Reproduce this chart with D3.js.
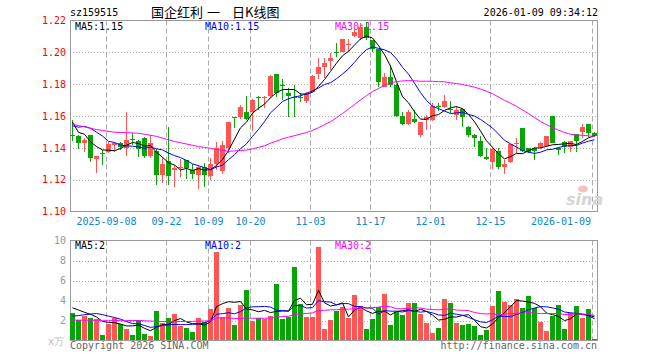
<!DOCTYPE html>
<html>
<head>
<meta charset="utf-8">
<script src="https://cdn.jsdelivr.net/npm/d3@7"></script>
<style>
  body { margin: 0; background: #fff; }
  svg { display: block; font-family: "DejaVu Sans Mono", monospace; font-size: 10px; }
</style>
</head>
<body>
<svg id="kline" width="660" height="360"></svg>
<script>
(function(d3) {
  'use strict';

  // trading days shown (88 sessions)
  var dates = [
    "2025-08-29","2025-09-01","2025-09-02","2025-09-03","2025-09-04","2025-09-05",
    "2025-09-08","2025-09-09","2025-09-10","2025-09-11","2025-09-12",
    "2025-09-15","2025-09-16","2025-09-17","2025-09-18","2025-09-19",
    "2025-09-22","2025-09-23","2025-09-24","2025-09-25","2025-09-26",
    "2025-09-29","2025-09-30","2025-10-09","2025-10-10",
    "2025-10-13","2025-10-14","2025-10-15","2025-10-16","2025-10-17",
    "2025-10-20","2025-10-21","2025-10-22","2025-10-23","2025-10-24",
    "2025-10-27","2025-10-28","2025-10-29","2025-10-30","2025-10-31",
    "2025-11-03","2025-11-04","2025-11-05","2025-11-06","2025-11-07",
    "2025-11-10","2025-11-11","2025-11-12","2025-11-13","2025-11-14",
    "2025-11-17","2025-11-18","2025-11-19","2025-11-20","2025-11-21",
    "2025-11-24","2025-11-25","2025-11-26","2025-11-27","2025-11-28",
    "2025-12-01","2025-12-02","2025-12-03","2025-12-04","2025-12-05",
    "2025-12-08","2025-12-09","2025-12-10","2025-12-11","2025-12-12",
    "2025-12-15","2025-12-16","2025-12-17","2025-12-18","2025-12-19",
    "2025-12-22","2025-12-23","2025-12-24","2025-12-25","2025-12-26",
    "2025-12-29","2025-12-30","2025-12-31",
    "2026-01-05","2026-01-06","2026-01-07","2026-01-08","2026-01-09"
  ];

  var open = [
    1.1478,1.1475,1.1433,1.1481,1.1332,1.1368,1.1372,1.1418,1.1433,1.1402,
    1.1455,1.1445,1.1464,1.1349,1.1381,1.1230,1.1318,1.1261,1.1279,1.1324,
    1.1261,1.1230,1.1282,1.1224,1.1300,1.1255,1.1397,1.1592,1.1596,1.1627,
    1.1627,1.1722,1.1719,1.1725,1.1863,1.1794,1.1746,1.1722,1.1718,1.1696,
    1.1752,1.1861,1.1905,1.1947,1.2004,1.2003,1.2049,1.2101,1.2087,1.2160,
    1.2077,1.2018,1.1784,1.1843,1.1794,1.1600,1.1550,1.1583,1.1481,1.1575,
    1.1575,1.1665,1.1658,1.1645,1.1606,1.1642,1.1533,1.1481,1.1445,1.1345,
    1.1313,1.1381,1.1282,1.1313,1.1428,1.1523,1.1397,1.1397,1.1404,1.1412,
    1.1600,1.1397,1.1439,1.1404,1.1485,1.1502,1.1550,1.1495
  ];
  var high = [
    1.1575,1.1478,1.1462,1.1483,1.1350,1.1385,1.1435,1.1439,1.1435,1.1623,
    1.1493,1.1447,1.1466,1.1481,1.1395,1.1337,1.1533,1.1290,1.1330,1.1326,
    1.1299,1.1285,1.1305,1.1337,1.1435,1.1440,1.1564,1.1596,1.1670,1.1725,
    1.1705,1.1725,1.1725,1.1857,1.1865,1.1830,1.1774,1.1794,1.1742,1.1752,
    1.1857,1.1966,1.1966,1.1997,1.2056,1.2085,1.2081,1.2160,1.2183,1.2190,
    1.2077,1.2018,1.1868,1.1920,1.1800,1.1627,1.1637,1.1638,1.1565,1.1606,
    1.1681,1.1683,1.1732,1.1696,1.1660,1.1648,1.1535,1.1485,1.1475,1.1397,
    1.1408,1.1397,1.1324,1.1425,1.1460,1.1525,1.1400,1.1404,1.1436,1.1477,
    1.1600,1.1404,1.1442,1.1445,1.1487,1.1548,1.1550,1.1500
  ];
  var low = [
    1.1445,1.1393,1.1376,1.1313,1.1245,1.1290,1.1365,1.1376,1.1387,1.1350,
    1.1418,1.1343,1.1335,1.1335,1.1167,1.1178,1.1164,1.1155,1.1218,1.1203,
    1.1203,1.1140,1.1157,1.1199,1.1260,1.1235,1.1370,1.1525,1.1580,1.1573,
    1.1508,1.1638,1.1648,1.1710,1.1721,1.1700,1.1596,1.1596,1.1690,1.1680,
    1.1750,1.1830,1.1836,1.1888,1.1972,1.2000,1.2003,1.2097,1.2077,1.2077,
    1.2003,1.1784,1.1784,1.1784,1.1596,1.1544,1.1544,1.1554,1.1468,1.1512,
    1.1570,1.1633,1.1648,1.1617,1.1575,1.1530,1.1470,1.1408,1.1345,1.1324,
    1.1268,1.1268,1.1236,1.1307,1.1366,1.1376,1.1366,1.1324,1.1395,1.1405,
    1.1429,1.1356,1.1366,1.1372,1.1376,1.1460,1.1465,1.1470
  ];
  var close = [
    1.1475,1.1433,1.1450,1.1335,1.1349,1.1366,1.1425,1.1433,1.1408,1.1450,
    1.1452,1.1393,1.1349,1.1433,1.1230,1.1297,1.1224,1.1276,1.1281,1.1274,
    1.1233,1.1282,1.1230,1.1299,1.1400,1.1420,1.1564,1.1590,1.1655,1.1579,
    1.1700,1.1719,1.1722,1.1851,1.1746,1.1790,1.1725,1.1718,1.1714,1.1738,
    1.1851,1.1909,1.1934,1.1966,1.2001,1.2081,1.2051,1.2129,1.2160,1.2087,
    1.2024,1.1815,1.1846,1.1794,1.1600,1.1550,1.1627,1.1562,1.1562,1.1596,
    1.1663,1.1660,1.1696,1.1640,1.1638,1.1596,1.1481,1.1464,1.1351,1.1330,
    1.1391,1.1282,1.1299,1.1423,1.1430,1.1382,1.1376,1.1382,1.1430,1.1475,
    1.1433,1.1386,1.1404,1.1440,1.1440,1.1533,1.1495,1.1475
  ];
  // volume, x万
  var volume = [
    2.75,2.10,2.45,2.30,2.15,0.53,1.64,2.30,1.62,1.20,
    0.53,2.10,0.63,0.43,2.94,1.73,2.22,2.64,1.44,1.25,
    0.85,2.24,1.85,3.12,8.88,2.33,3.22,1.54,3.52,5.05,
    1.97,2.30,2.20,2.44,5.65,2.14,2.37,7.37,3.64,2.37,
    2.37,9.32,1.15,2.04,2.94,3.37,2.30,4.55,3.44,1.13,
    2.14,3.31,4.65,1.54,2.87,2.54,3.78,3.78,2.64,1.77,
    0.76,1.27,4.15,3.78,1.77,1.54,1.64,1.44,0.53,1.10,
    3.47,4.95,3.88,3.54,4.12,3.24,4.45,3.21,1.87,0.96,
    2.44,3.54,1.13,2.77,3.44,2.27,3.14,0.13
  ];
  // the 29 sessions before the window, only feed the moving averages
  var prevClose = [
    1.1681,1.1698,1.1583,1.1597,1.1536,1.1595,1.1603,1.1453,1.1495,1.1497,
    1.1438,1.1549,1.1633,1.1430,1.1617,1.1544,1.1596,1.1521,1.1514,1.1473,
    1.1522,1.1395,1.1464,1.1590,1.1610,1.1754,1.1508,1.1573,1.1497
  ];
  var prevVolume = [
    2.21,2.56,2.41,2.26,0.64,1.75,2.41,1.73,1.31,0.64,
    2.21,1.41,1.21,3.72,2.51,3.00,2.29,1.09,0.90,0.50,
    1.60,1.50,1.70,1.60,1.65,3.20,3.60,3.30,3.50
  ];

  var tickDates = ["2025-09-08","2025-09-22","2025-10-09","2025-10-20","2025-11-03",
                   "2025-11-17","2025-12-01","2025-12-15","2026-01-09"];
  var tickText = ["2025-09-08","09-22","10-09","10-20","11-03","11-17","12-01","12-15","2026-01-09"];
  var priceTicks = [1.10, 1.12, 1.14, 1.16, 1.18, 1.20, 1.22];
  var volTicks = [2, 4, 6, 8, 10];

  var red = '#ff5555', green = '#08a408';
  var maColors = { 5: '#000', 10: '#0000ff', 30: '#ff00ff' };
  var left = 70, right = 598;

  var svg = d3.select('#kline');

  var x = d3.scaleBand()
      .domain(dates)
      .range([left, left + dates.length * 6])
      .paddingInner(1 / 6)
      .paddingOuter(1 / 12)
      .align(0);
  var mid = function(d) { return x(d) + x.bandwidth() / 2; };

  var yP = d3.scaleLinear().domain([1.10, 1.22]).range([211.5, 20.5]);
  var yV = d3.scaleLinear().domain([0, 10]).range([340.5, 240.5]);

  function movingAvg(hist, vals, n) {
    var all = hist.concat(vals);
    return vals.map(function(d, i) {
      var k = hist.length + i;
      return d3.mean(all.slice(k - n + 1, k + 1));
    });
  }

  // ---- header
  svg.append('text').attr('x', 70).attr('y', 16).text('sz159515');
  svg.append('text')
      .attr('y', 17)
      .attr('font-family', '"Noto Sans CJK SC", sans-serif')
      .attr('font-size', '13px')
      .call(function(t) {
        t.append('tspan').attr('x', 151).text('国企红利');
        t.append('tspan').attr('x', 207).text('一');
        t.append('tspan').attr('x', 232).text('日K线图');
      });
  svg.append('text').attr('x', 598).attr('y', 16).attr('text-anchor', 'end')
      .text('2026-01-09 09:34:12');

  // ---- panel frames, grids
  function panel(top, bottom, yScale, ticks) {
    var g = svg.append('g');
    g.selectAll('.hgrid')
      .data(ticks.filter(function(t) { return yScale(t) > top + 2 && yScale(t) < bottom - 2; }))
      .enter().append('line')
        .attr('x1', left).attr('x2', right)
        .attr('y1', function(t) { return Math.round(yScale(t)) + 0.5; })
        .attr('y2', function(t) { return Math.round(yScale(t)) + 0.5; })
        .attr('stroke', '#aaa')
        .attr('stroke-dasharray', '1,2');
    g.selectAll('.vgrid')
      .data(tickDates)
      .enter().append('line')
        .attr('x1', function(d) { return x(d) + 0.5; })
        .attr('x2', function(d) { return x(d) + 0.5; })
        .attr('y1', top).attr('y2', bottom)
        .attr('stroke', '#aaa')
        .attr('stroke-dasharray', '5,3');
    g.append('rect')
      .attr('x', left + 0.5).attr('y', top)
      .attr('width', right - left - 1).attr('height', bottom - top)
      .attr('fill', 'none')
      .attr('stroke', '#999');
  }
  panel(20.5, 211.5, yP, priceTicks);
  panel(240.5, 340.5, yV, volTicks);

  // y labels
  svg.append('g')
      .attr('transform', 'translate(' + left + ',0)')
      .call(d3.axisLeft(yP).tickValues(priceTicks).tickFormat(d3.format('.2f')).tickSize(0).tickPadding(4))
      .call(function(g) { g.select('.domain').remove(); })
      .attr('font-family', '"DejaVu Sans Mono", monospace')
      .attr('color', '#f00');
  svg.append('g')
      .attr('transform', 'translate(' + left + ',0)')
      .call(d3.axisLeft(yV).tickValues(volTicks).tickSize(0).tickPadding(4))
      .call(function(g) { g.select('.domain').remove(); })
      .attr('font-family', '"DejaVu Sans Mono", monospace')
      .attr('color', '#999');
  svg.append('text').attr('x', 64).attr('y', 345).attr('text-anchor', 'end')
      .attr('fill', '#bbb').text('x万');

  // date labels
  svg.selectAll('.date')
    .data(tickDates)
    .enter().append('text')
      .attr('class', 'date')
      .attr('y', 225)
      .attr('fill', '#0a86d4')
      .attr('x', function(d, i) {
        var w = tickText[i].length * 6;
        return Math.min(x(d) + 0.5, right - 7 - w / 2);
      })
      .attr('text-anchor', 'middle')
      .text(function(d, i) { return tickText[i]; });

  // sina watermark
  svg.append('ellipse').attr('cx', 583).attr('cy', 189).attr('rx', 5).attr('ry', 3.5)
      .attr('fill', '#f4c0c0');
  svg.append('text').attr('x', 566).attr('y', 205)
      .attr('font-family', '"DejaVu Sans", sans-serif')
      .attr('font-size', '16px').attr('font-style', 'italic').attr('font-weight', 'bold')
      .attr('fill', '#d4d4d4').text('sina');

  // ---- MA legends (drawn under the candles)
  var pMA = { 5: movingAvg(prevClose, close, 5), 10: movingAvg(prevClose, close, 10), 30: movingAvg(prevClose, close, 30) };
  var vMA = { 5: movingAvg(prevVolume, volume, 5), 10: movingAvg(prevVolume, volume, 10), 30: movingAvg(prevVolume, volume, 30) };
  var legendX = { 5: 75, 10: 205, 30: 335 };
  [5, 10, 30].forEach(function(n) {
    svg.append('text').attr('x', legendX[n]).attr('y', 30).attr('fill', maColors[n])
        .text('MA' + n + ':' + d3.format('.2f')(pMA[n][pMA[n].length - 1]));
    svg.append('text').attr('x', legendX[n]).attr('y', 249).attr('fill', maColors[n])
        .text('MA' + n + ':' + d3.format('.0f')(vMA[n][vMA[n].length - 1]));
  });

  // ---- candles
  var up = function(i) { return close[i] >= open[i]; };
  var candles = svg.append('g').selectAll('g')
    .data(dates)
    .enter().append('g');
  candles.append('line')
      .attr('x1', mid).attr('x2', mid)
      .attr('y1', function(d, i) { return Math.round(yP(high[i])); })
      .attr('y2', function(d, i) { return Math.round(yP(low[i])); })
      .attr('stroke', function(d, i) { return up(i) ? red : green; });
  candles.append('rect')
      .attr('x', function(d) { return x(d); })
      .attr('width', x.bandwidth())
      .attr('y', function(d, i) { return Math.round(yP(Math.max(open[i], close[i]))); })
      .attr('height', function(d, i) {
        return Math.max(1, Math.round(yP(Math.min(open[i], close[i]))) - Math.round(yP(Math.max(open[i], close[i]))));
      })
      .attr('fill', function(d, i) { return up(i) ? red : green; });

  // ---- volume bars
  svg.append('g').selectAll('rect')
    .data(volume)
    .enter().append('rect')
      .attr('x', function(d, i) { return x(dates[i]); })
      .attr('width', x.bandwidth())
      .attr('y', function(d) { return Math.round(yV(d)); })
      .attr('height', function(d) { return 340 - Math.round(yV(d)); })
      .attr('fill', function(d, i) { return up(i) ? red : green; });

  // ---- moving average lines
  [5, 10, 30].forEach(function(n) {
    var lineP = d3.line()
        .x(function(d, i) { return mid(dates[i]); })
        .y(function(d) { return yP(d); });
    var lineV = d3.line()
        .x(function(d, i) { return mid(dates[i]); })
        .y(function(d) { return yV(d); });
    svg.append('path').attr('d', lineP(pMA[n])).attr('fill', 'none').attr('stroke', maColors[n]);
    svg.append('path').attr('d', lineV(vMA[n])).attr('fill', 'none').attr('stroke', maColors[n]);
  });

  // ---- footer
  svg.append('text').attr('x', 70).attr('y', 349).attr('fill', '#666').text('Copyright 2026 SINA.COM');
  svg.append('text').attr('x', 597).attr('y', 349).attr('text-anchor', 'end').attr('fill', '#666')
      .text('http://finance.sina.com.cn');
})(window.d3);
</script>
</body>
</html>
